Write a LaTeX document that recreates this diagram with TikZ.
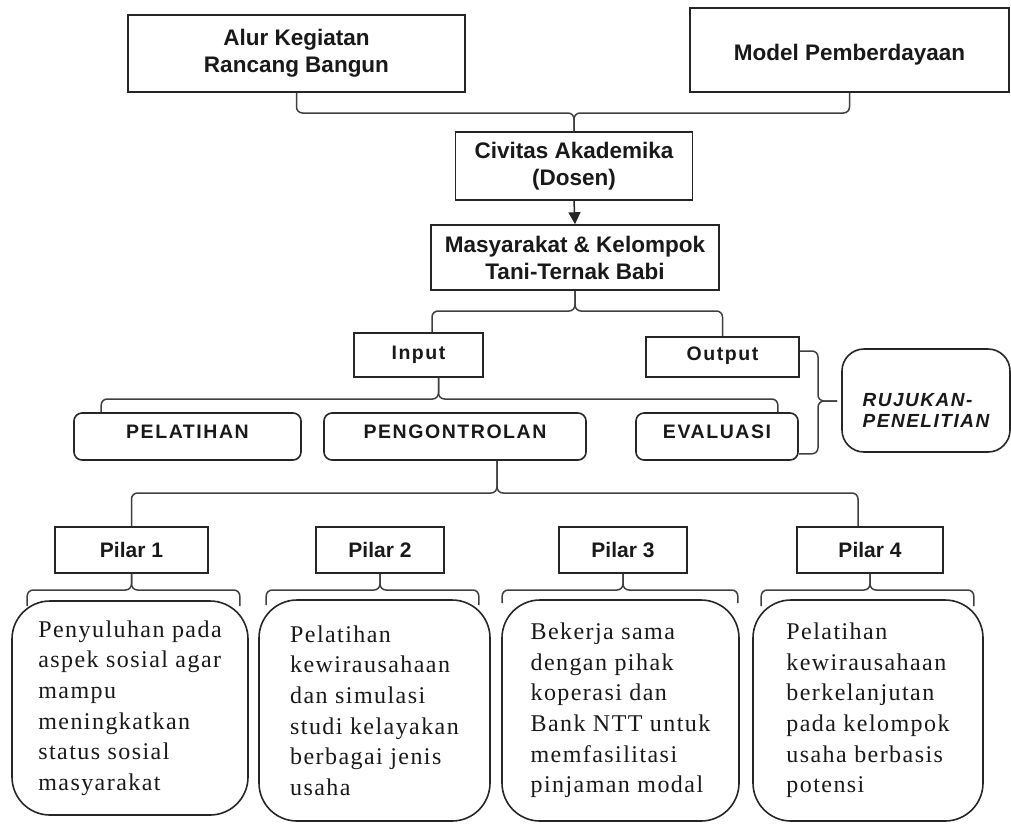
\documentclass[tikz,border=0pt]{standalone}
\usepackage{fontspec}
\setmainfont{Liberation Serif}
\setsansfont{Liberation Sans}
\newfontfamily\spacedsans[LetterSpace=8]{Liberation Sans}
\newfontfamily\boxserif[LetterSpace=6]{Liberation Serif}
\usetikzlibrary{arrows.meta,calc}

\begin{document}
\begin{tikzpicture}[x=1pt,y=-1pt,
    box/.style={draw=black!85,line width=1.6pt,rectangle,inner sep=0pt,align=center,text=black!90},
    titlebox/.style={box,font=\sffamily\bfseries\fontsize{22.5}{27}\selectfont},
    pilarbox/.style={box,font=\sffamily\bfseries\fontsize{21}{25}\selectfont},
    smallbox/.style={box,font=\spacedsans\bfseries\fontsize{19.5}{21}\selectfont},
    capbox/.style={smallbox,rounded corners=8pt,text depth=9pt},
    descbox/.style={box,rounded corners=38pt,align=left,font=\boxserif\fontsize{24}{30.6}\selectfont},
    brace/.style={draw=black!75,line width=1.5pt,rounded corners=6pt}]
      \useasboundingbox (0,0) rectangle (1011,823);

      \node[titlebox,minimum width=337pt,minimum height=77pt] (alur) at (296.5,53.5) {Alur Kegiatan\\Rancang Bangun};
      \node[titlebox,minimum width=319pt,minimum height=84pt] (model) at (849.5,50) {\rule{0pt}{26pt}Model Pemberdayaan};
      \node[titlebox,minimum width=237pt,minimum height=68pt] (civitas) at (574,166) {Civitas Akademika\\(Dosen)};
      \node[titlebox,minimum width=288pt,minimum height=65pt] (masy) at (575,257.5) {Masyarakat \& Kelompok\\Tani-Ternak Babi};

      \coordinate (j1) at (574,113);
      \draw[brace] (alur.south) |- (j1) -- (civitas.north);
      \draw[brace] (model.south) |- (j1) -- (civitas.north);
      \draw[draw=black!85,line width=1.5pt,-{Triangle[length=12pt,width=12pt]}] (civitas.south) -- (masy.north);

      \node[smallbox,minimum width=129pt,minimum height=44pt] (input) at (418.5,355) {Input};
      \node[smallbox,minimum width=153pt,minimum height=40pt,text depth=7pt] (output) at (722.5,357) {Output};

      \coordinate (j2) at (575,311);
      \draw[brace] (masy.south) -- (j2) -| ([xshift=13.5pt]input.north);
      \draw[brace] (masy.south) -- (j2) -| (output.north);

      \node[capbox,minimum width=227pt,minimum height=47pt] (pelatihan) at (187.5,436.5) {PELATIHAN};
      \node[capbox,minimum width=262pt,minimum height=47pt] (pengontrolan) at (455,436.5) {PENGONTROLAN};
      \node[capbox,minimum width=162pt,minimum height=47pt] (evaluasi) at (717,436.5) {EVALUASI};
      \node[box,rounded corners=22pt,align=left,font=\spacedsans\bfseries\itshape\fontsize{19}{21}\selectfont,
            minimum width=168pt,minimum height=103pt] (rujukan) at (926,400.5) {\rule{0pt}{32pt}RUJUKAN-\\PENELITIAN};

      \coordinate (j3) at (438.5,399);
      \draw[brace] ([xshift=20pt]input.south) -- (j3) -| ([xshift=28pt]pelatihan.north west);
      \draw[brace] ([xshift=20pt]input.south) -- (j3) -| ([xshift=-21pt]evaluasi.north east);

      \coordinate (j4) at (818,401);
      \coordinate (tip) at (837,401);
      \draw[brace] ([yshift=6pt]output.east) -| (j4) -- (tip);
      \draw[brace] ([yshift=7pt]evaluasi.south east) -| (j4) -- (tip);

      \node[pilarbox,minimum width=153pt,minimum height=46pt] (pilar1) at (131.5,550) {Pilar 1};
      \node[pilarbox,minimum width=128pt,minimum height=46pt] (pilar2) at (380,550) {Pilar 2};
      \node[pilarbox,minimum width=128pt,minimum height=46pt] (pilar3) at (623,550) {Pilar 3};
      \node[pilarbox,minimum width=146pt,minimum height=46pt] (pilar4) at (870,550) {Pilar 4};

      \coordinate (j5) at (497,493);
      \draw[brace] ([xshift=42pt]pengontrolan.south) -- (j5) -| (pilar1.north);
      \draw[brace] ([xshift=42pt]pengontrolan.south) -- (j5) -| ([xshift=-12pt]pilar4.north);

      \node[descbox,minimum width=236pt,minimum height=214pt] (desc1) at (130,708)
        {Penyuluhan pada\\aspek sosial agar\\mampu\\meningkatkan\\status sosial\\masyarakat};
      \node[descbox,minimum width=231pt,minimum height=221pt] (desc2) at (374.5,710.5)
        {Pelatihan\\kewirausahaan\\dan simulasi\\studi kelayakan\\berbagai jenis\\usaha};
      \node[descbox,minimum width=237pt,minimum height=221pt] (desc3) at (620.5,710.5)
        {Bekerja sama\\dengan pihak\\koperasi dan\\Bank NTT untuk\\memfasilitasi\\pinjaman modal};
      \node[descbox,minimum width=230pt,minimum height=221pt] (desc4) at (868,710.5)
        {Pelatihan\\kewirausahaan\\berkelanjutan\\pada kelompok\\usaha berbasis\\potensi};

      \coordinate (k1) at (131.5,590);
      \coordinate (k2) at (380,590);
      \coordinate (k3) at (623,590);
      \coordinate (k4) at (870,590);
      \draw[brace] (pilar1.south) -- (k1) -| ([xshift=16pt,yshift=-6pt]desc1.north west);
      \draw[brace] (pilar1.south) -- (k1) -| ([xshift=-9pt,yshift=-6pt]desc1.north east);
      \draw[brace] (pilar2.south) -- (k2) -| ([xshift=8pt,yshift=-6pt]desc2.north west);
      \draw[brace] (pilar2.south) -- (k2) -| ([xshift=-12pt,yshift=-6pt]desc2.north east);
      \draw[brace] (pilar3.south) -- (k3) -| ([xshift=1pt,yshift=-4pt]desc3.north west);
      \draw[brace] (pilar3.south) -- (k3) -| ([xshift=-2pt,yshift=-4pt]desc3.north east);
      \draw[brace] (pilar4.south) -- (k4) -| ([xshift=9pt,yshift=-7pt]desc4.north west);
      \draw[brace] (pilar4.south) -- (k4) -| ([xshift=-10pt,yshift=-7pt]desc4.north east);
\end{tikzpicture}
\end{document}
